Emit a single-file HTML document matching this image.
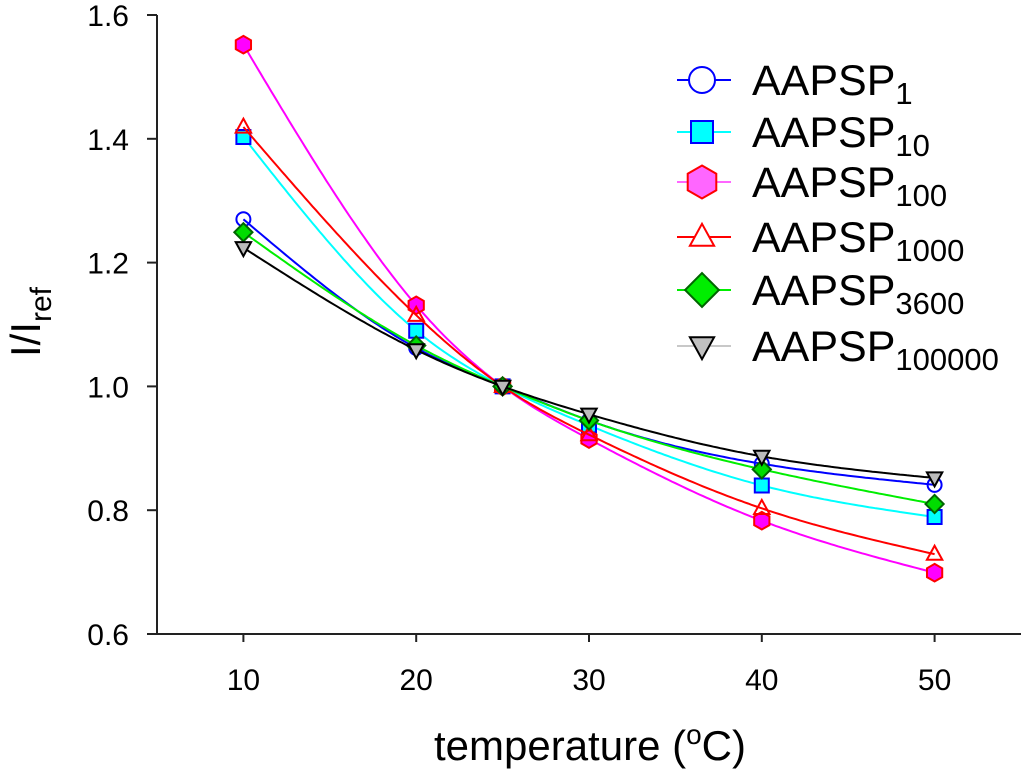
<!DOCTYPE html>
<html><head><meta charset="utf-8"><style>
body{margin:0;background:#fff;}
svg{display:block;font-family:"Liberation Sans",Arial,sans-serif;}
</style></head><body>
<svg id="chart" width="1024" height="780" viewBox="0 0 1024 780">
<g id="axes"></g>
<g id="series"></g>
<g id="legend"></g>
<text x="590" y="760" font-size="42" text-anchor="middle">temperature (<tspan font-size="28" dy="-16">o</tspan><tspan dy="16">C)</tspan></text>
<text transform="translate(40,322) rotate(-90)" font-size="42" text-anchor="middle">I/I<tspan font-size="30" dy="11">ref</tspan></text>
</svg>
<script>
const xCats=[10,20,25,30,40,50];
const sNames=["1","10","100","1000","3600","100000"];
const s1=[1.270,1.062,1.0,0.945,0.875,0.841];
const s10=[1.403,1.090,1.0,0.937,0.840,0.789];
const s100=[1.552,1.131,1.0,0.915,0.783,0.699];
const s1000=[1.419,1.115,1.0,0.922,0.803,0.729];
const s3600=[1.249,1.066,1.0,0.945,0.866,0.810];
const s100000=[1.224,1.059,1.0,0.955,0.887,0.852];
const yTicks=[0.6,0.8,1.0,1.2,1.4,1.6];
const xTicks=[10,20,30,40,50];
const NS="http://www.w3.org/2000/svg";
const X0=157,X1=1021,Y0=15,Y1=634;
const xs=v=>X0+(v-5)/50*(X1-X0);
const ys=v=>Y1-(v-0.6)/1.0*(Y1-Y0);
function mk(t,a,p){const e=document.createElementNS(NS,t);for(const k in a)e.setAttribute(k,a[k]);p.appendChild(e);return e;}
const axes=document.getElementById('axes');
let e=mk('line',{x1:X0,y1:Y0,x2:X0,y2:Y1+1,stroke:'#222','stroke-width':2},axes);

e=mk('line',{x1:X0-10,y1:Y1,x2:X1,y2:Y1,stroke:'#222','stroke-width':2},axes);

yTicks.forEach(v=>{const y=ys(v);
 e=mk('line',{x1:X0-10,y1:y,x2:X0,y2:y,stroke:'#222','stroke-width':2},axes);
 
 e=mk('text',{x:129,y:y+11,'font-size':30,'text-anchor':'end'},axes);e.textContent=v.toFixed(1);
 });
xTicks.forEach(v=>{const x=xs(v);
 e=mk('line',{x1:x,y1:Y1,x2:x,y2:Y1+8,stroke:'#222','stroke-width':2},axes);
 
 e=mk('text',{x:x,y:690,'font-size':30,'text-anchor':'middle'},axes);e.textContent=v;
 });
const styles=[
 {d:s1,line:'#0000ff',leg:'#0000ff',m:'circle',fill:'none',lfill:'#fff',st:'#0000ff',lr:13},
 {d:s10,line:'#00ffff',leg:'#00ffff',m:'square',fill:'#00ffff',lfill:'#00ffff',st:'#0000ff',lr:11},
 {d:s100,line:'#ff00ff',leg:'#ff66ff',m:'hex',fill:'#ff00ff',lfill:'#ff66ff',st:'#ff0000',lr:15},
 {d:s1000,line:'#ff0000',leg:'#ff0000',m:'tri',fill:'none',lfill:'#fff',st:'#ff0000',lr:11},
 {d:s3600,line:'#00ee00',leg:'#00ee00',m:'diamond',fill:'#00dd00',lfill:'#00ee00',st:'#006600',lr:13},
 {d:s100000,line:'#000000',leg:'#c8c8c8',m:'tridown',fill:'#bbbbbb',lfill:'#c0c0c0',st:'#000000',lr:11}];
function marker(p,type,x,y,r,fill,st){
 let a={fill:fill,stroke:st,'stroke-width':2};
 if(type==='circle'){return mk('circle',Object.assign({cx:x,cy:y,r:r},a),p);}
 let pts;
 if(type==='square')pts=[[-r,-r],[r,-r],[r,r],[-r,r]];
 if(type==='diamond')pts=[[0,-r*1.3],[r*1.3,0],[0,r*1.3],[-r*1.3,0]];
 if(type==='tri')pts=[[0,-r*1.2],[r*1.1,r*0.8],[-r*1.1,r*0.8]];
 if(type==='tridown')pts=[[0,r*1.2],[r*1.1,-r*0.8],[-r*1.1,-r*0.8]];
 if(type==='hex'){pts=[];for(let i=0;i<6;i++){const t=Math.PI/3*i-Math.PI/2;pts.push([r*1.1*Math.cos(t),r*1.1*Math.sin(t)]);}}
 return mk('polygon',Object.assign({points:pts.map(q=>(x+q[0])+','+(y+q[1])).join(' ')},a),p);
}
function natSpline(X,Y){const n=X.length,h=[],al=[],l=[1],mu=[0],z=[0],c=new Array(n).fill(0),b=[],d=[];
 for(let i=0;i<n-1;i++)h.push(X[i+1]-X[i]);
 for(let i=1;i<n-1;i++)al[i]=3/h[i]*(Y[i+1]-Y[i])-3/h[i-1]*(Y[i]-Y[i-1]);
 for(let i=1;i<n-1;i++){l[i]=2*(X[i+1]-X[i-1])-h[i-1]*mu[i-1];mu[i]=h[i]/l[i];z[i]=(al[i]-h[i-1]*z[i-1])/l[i];}
 for(let j=n-2;j>=0;j--){c[j]=(z[j]||0)-(mu[j]||0)*c[j+1];b[j]=(Y[j+1]-Y[j])/h[j]-h[j]*(c[j+1]+2*c[j])/3;d[j]=(c[j+1]-c[j])/(3*h[j]);}
 return t=>{let i=0;while(i<n-2&&t>X[i+1])i++;const dx=t-X[i];return Y[i]+b[i]*dx+c[i]*dx*dx+d[i]*dx*dx*dx;};}
const series=document.getElementById('series');
styles.forEach((s,k)=>{
 const g=mk('g',{},series);
 
 const f=natSpline(xCats,s.d);let dd='';
 const a=xCats[0],bb=xCats[xCats.length-1];
 for(let i=0;i<=200;i++){const t=a+(bb-a)*i/200;dd+=(i?' L':'M')+xs(t).toFixed(1)+','+ys(f(t)).toFixed(1);}
 const l=mk('path',{d:dd,fill:'none',stroke:s.line,'stroke-width':2},g);
 
 xCats.forEach((c,i)=>{const m=marker(g,s.m,xs(c),ys(s.d[i]),s.m==='hex'?8:7,s.fill,s.st);
  });
});
const leg=document.getElementById('legend');
const ly=[80,132,182,237,290,346];
styles.forEach((s,k)=>{
 const g=mk('g',{},leg);
 
 mk('line',{x1:677,y1:ly[k],x2:731,y2:ly[k],stroke:s.leg,'stroke-width':2},g);
 marker(g,s.m,702,ly[k],s.lr,s.lfill,s.st);
 const t=mk('text',{x:752,y:ly[k]+15,'font-size':43},g);
 t.textContent='AAPSP';
 const sub=mk('tspan',{'font-size':31,dy:9},t);sub.textContent=sNames[k];
});
</script>
</body></html>
